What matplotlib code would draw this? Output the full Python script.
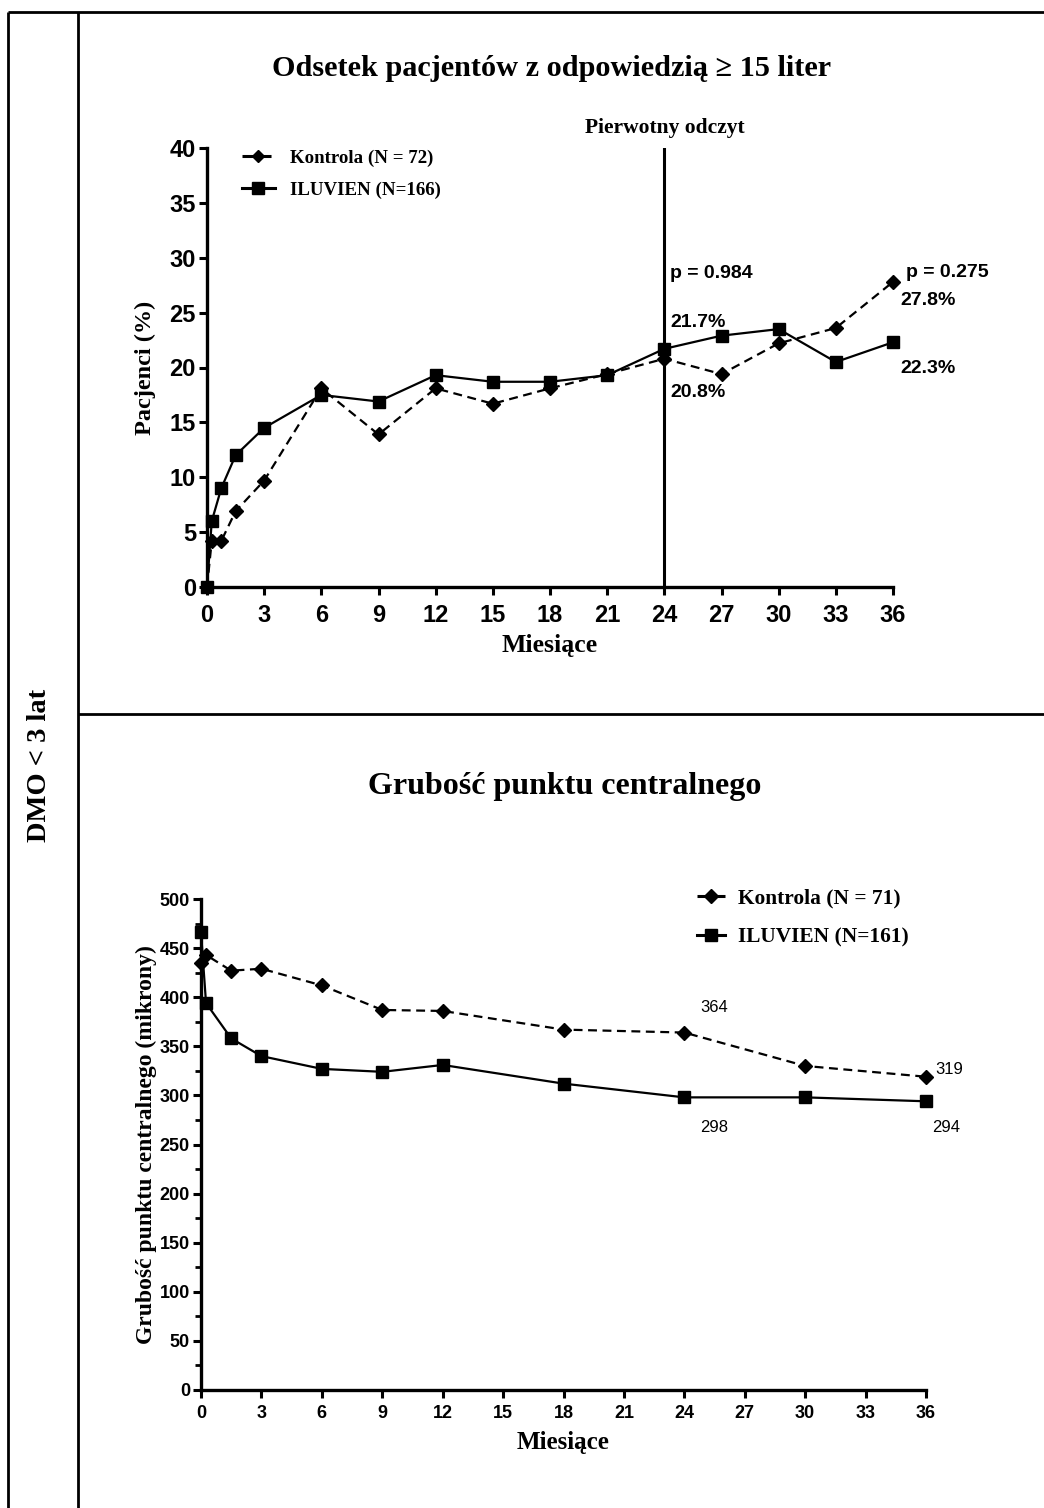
import matplotlib
matplotlib.use("Agg")
import matplotlib.pyplot as plt
from matplotlib.lines import Line2D

# ---------------- data ----------------
months_top = [0, 0.25, 0.75, 1.5, 3, 6, 9, 12, 15, 18, 21, 24, 27, 30, 33, 36]
kontrola_top = [0, 4.2, 4.2, 6.9, 9.7, 18.1, 13.9, 18.1, 16.7, 18.1, 19.4, 20.8, 19.4, 22.2, 23.6, 27.8]
iluvien_top = [0, 6.0, 9.0, 12.0, 14.5, 17.5, 16.9, 19.3, 18.7, 18.7, 19.3, 21.7, 22.9, 23.5, 20.5, 22.3]

months_bot = [0, 0.25, 1.5, 3, 6, 9, 12, 18, 24, 30, 36]
kontrola_bot = [435, 443, 427, 429, 412, 387, 386, 367, 364, 330, 319]
months_bot_il = [0, 0.25, 1.5, 3, 6, 9, 12, 18, 24, 30, 36]
iluvien_bot = [466, 394, 358, 340, 327, 324, 331, 312, 298, 298, 294]

xticks = list(range(0, 37, 3))
yticks_top = list(range(0, 41, 5))
yticks_bot = list(range(0, 501, 50))

title_top = "Odsetek pacjentów z odpowiedzią ≥ 15 liter"
title_bot = "Grubość punktu centralnego"
ylabel_top = "Pacjenci (%)"
ylabel_bot = "Grubość punktu centralnego (mikrony)"
xlabel = "Miesiące"
row_label = "DMO < 3 lat"
legend_top = ["Kontrola (N = 72)", "ILUVIEN (N=166)"]
legend_bot = ["Kontrola (N = 71)", "ILUVIEN (N=161)"]

W, H = 1044, 1508
SERIF = "Liberation Serif"
SANS = "Liberation Sans"

fig = plt.figure(figsize=(W / 100, H / 100), dpi=100)


def fx(x):
    return x / W


def fy(y):
    return 1 - y / H


# ---------------- table frame ----------------
lw_frame = 2.0
for (x0, y0, x1, y1) in [(7.5, 12.3, 1044, 12.3), (7.5, 12.3, 7.5, 1508),
                         (78, 12.3, 78, 1508), (78, 714, 1044, 714)]:
    fig.add_artist(Line2D([fx(x0), fx(x1)], [fy(y0), fy(y1)], color="black",
                          lw=lw_frame, transform=fig.transFigure,
                          solid_capstyle="butt"))

fig.text(fx(40), fy(765), row_label, rotation=90, ha="center", va="center",
         fontfamily=SERIF, fontweight="bold", fontsize=20.5)


def style_axes(ax, tick_fs, pad):
    for s in ["top", "right"]:
        ax.spines[s].set_visible(False)
    for s in ["left", "bottom"]:
        ax.spines[s].set_linewidth(2.4)
    ax.tick_params(axis="both", which="major", direction="out", length=6,
                   width=2.2, labelsize=tick_fs, pad=2)
    ax.tick_params(axis="x", which="major", pad=pad)
    for lab in ax.get_xticklabels() + ax.get_yticklabels():
        lab.set_fontfamily(SANS)
        lab.set_fontweight("bold")


# ---------------- top chart ----------------
ax1 = fig.add_axes([fx(207), fy(587), fx(893) - fx(207), fy(148) - fy(587)])
ax1.set_xlim(0, 36)
ax1.set_ylim(0, 40)
ax1.set_xticks(xticks)
ax1.set_yticks(yticks_top)
style_axes(ax1, 17, 6)

ax1.plot(months_top, kontrola_top, color="black", lw=1.6, ls=(0, (4, 2.5)),
         marker="D", markersize=7.5, clip_on=False, zorder=3)
ax1.plot(months_top, iluvien_top, color="black", lw=1.6, ls="-",
         marker="s", markersize=9, clip_on=False, zorder=4)
ax1.axvline(24, color="black", lw=2.2, zorder=2)
ax1.text(24, 41.8, "Pierwotny odczyt", ha="center", va="center",
         fontfamily=SERIF, fontweight="bold", fontsize=15.5)

ann_kw = dict(fontfamily=SANS, fontweight="bold", fontsize=14, va="center",
              ha="left")
ax1.text(24.3, 28.6, "p = 0.984", **ann_kw)
ax1.text(24.3, 24.1, "21.7%", **ann_kw)
ax1.text(24.3, 17.7, "20.8%", **ann_kw)
ax1.text(36.7, 28.7, "p = 0.275", clip_on=False, **ann_kw)
ax1.text(36.4, 26.15, "27.8%", clip_on=False, **ann_kw)
ax1.text(36.4, 19.95, "22.3%", clip_on=False, **ann_kw)

ax1.set_xlabel(xlabel, fontfamily=SERIF, fontweight="bold", fontsize=18.5,
               labelpad=5)
ax1.set_ylabel(ylabel_top, fontfamily=SERIF, fontweight="bold", fontsize=17.5,
               labelpad=10)
fig.text(fx(552), fy(68), title_top, ha="center", va="center",
         fontfamily=SERIF, fontweight="bold", fontsize=21.8)

h1 = Line2D([], [], color="black", lw=2.2, ls=(0, (4, 1.5)), marker="D",
            markersize=6.5)
h2 = Line2D([], [], color="black", lw=2.2, ls="-", marker="s", markersize=8)
ax1.legend([h1, h2], legend_top, loc="upper left",
           bbox_to_anchor=(0.026, 1.036),
           frameon=False, handlelength=1.75, handletextpad=0.8,
           labelspacing=0.81,
           prop={"family": SERIF, "weight": "bold", "size": 13.6})

# ---------------- bottom chart ----------------
ax2 = fig.add_axes([fx(201), fy(1390), fx(926) - fx(201), fy(899) - fy(1390)])
ax2.set_xlim(0, 36)
ax2.set_ylim(0, 500)
ax2.set_xticks(xticks)
ax2.set_yticks(yticks_bot)
ax2.set_yticks(list(range(25, 500, 50)), minor=True)
style_axes(ax2, 13, 5)
ax2.tick_params(axis="y", which="minor", direction="out", length=4, width=2.0)

ax2.plot(months_bot, kontrola_bot, color="black", lw=1.6, ls=(0, (4, 2.5)),
         marker="D", markersize=7.5, clip_on=False, zorder=3)
ax2.plot(months_bot_il, iluvien_bot, color="black", lw=1.6, ls="-",
         marker="s", markersize=8.5, clip_on=False, zorder=4)

ann2 = dict(fontfamily=SANS, fontsize=12, va="center", clip_on=False)
ax2.text(25.5, 390, "364", ha="center", **ann2)
ax2.text(36.45, 326, "319", ha="left", **ann2)
ax2.text(25.5, 267, "298", ha="center", **ann2)
ax2.text(37.0, 267, "294", ha="center", **ann2)

ax2.set_xlabel(xlabel, fontfamily=SERIF, fontweight="bold", fontsize=18,
               labelpad=6)
ax2.set_ylabel(ylabel_bot, fontfamily=SERIF, fontweight="bold", fontsize=17,
               labelpad=2)
fig.text(fx(565), fy(786), title_bot, ha="center", va="center",
         fontfamily=SERIF, fontweight="bold", fontsize=23)

h3 = Line2D([], [], color="black", lw=2.2, ls=(0, (4, 1.5)), marker="D",
            markersize=7)
h4 = Line2D([], [], color="black", lw=2.2, ls="-", marker="s", markersize=8)
ax2.legend([h3, h4], legend_bot, loc="upper left",
           bbox_to_anchor=(0.658, 1.061), frameon=False, handlelength=1.3,
           handletextpad=0.6, labelspacing=0.88,
           prop={"family": SERIF, "weight": "bold", "size": 15.4})

fig.savefig("out.png", dpi=100)
